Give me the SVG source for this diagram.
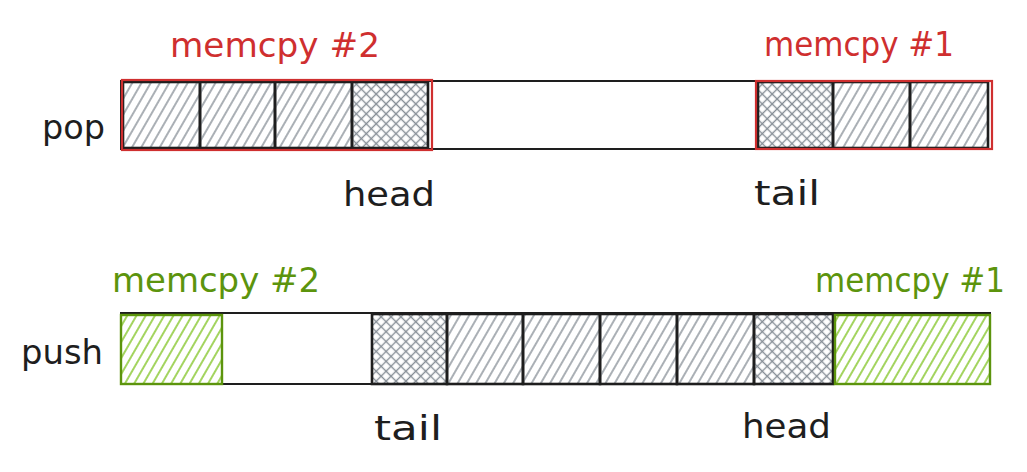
<svg xmlns="http://www.w3.org/2000/svg" width="1027" height="472" viewBox="0 0 1027 472">
<style>
.bg{fill:#fff}
.bar{fill:none;stroke:#1e1e1e;stroke-width:2}
.cell{fill:url(#hatch);stroke:#1e1e1e;stroke-width:2.6}
.xcell{fill:url(#xhatch);stroke:#1e1e1e;stroke-width:2.6}
.gcell{fill:url(#ghatch);stroke:#5c940d;stroke-width:2.4}
.rbox{fill:none;stroke:#cf2f2f;stroke-width:2.2}
.lbl{font-family:"DejaVu Sans","Liberation Sans",sans-serif;font-size:34px;fill:#1e1e1e}
.red{fill:#cf2f2f}
.grn{fill:#5c940d}
</style>
<defs>
<pattern id="hatch" patternUnits="userSpaceOnUse" width="8" height="8" patternTransform="rotate(30)">
<line x1="4" y1="0" x2="4" y2="8" stroke="#868e96" stroke-width="1.4"/>
</pattern>
<pattern id="xhatch" patternUnits="userSpaceOnUse" width="7" height="7" patternTransform="rotate(45)">
<line x1="3.5" y1="0" x2="3.5" y2="7" stroke="#868e96" stroke-width="1.4"/>
<line x1="0" y1="3.5" x2="7" y2="3.5" stroke="#868e96" stroke-width="1.4"/>
</pattern>
<pattern id="ghatch" patternUnits="userSpaceOnUse" width="8" height="8" patternTransform="rotate(30)">
<line x1="4" y1="0" x2="4" y2="8" stroke="#7cc21a" stroke-width="1.4"/>
</pattern>
</defs>
<rect class="bg" x="0" y="0" width="1027" height="472"/>

<g id="pop-row">
<text class="lbl" x="42" y="139" textLength="63" lengthAdjust="spacingAndGlyphs">pop</text>
<rect class="bar" x="121" y="81" width="871" height="68"/>
<rect class="cell" x="123" y="82" width="77" height="66"/>
<rect class="cell" x="200" y="82" width="75" height="66"/>
<rect class="cell" x="275" y="82" width="77" height="66"/>
<rect class="xcell" x="352" y="82" width="76" height="66"/>
<rect class="xcell" x="758" y="82" width="75" height="66"/>
<rect class="cell" x="833" y="82" width="77" height="66"/>
<rect class="cell" x="910" y="82" width="78" height="66"/>
</g>
<g id="pop-memcpy2">
<rect class="rbox" x="122" y="80" width="310" height="70"/>
<text class="lbl red" x="170" y="57" textLength="210" lengthAdjust="spacingAndGlyphs">memcpy #2</text>
</g>
<g id="pop-memcpy1">
<rect class="rbox" x="756" y="81" width="236" height="68"/>
<text class="lbl red" x="764" y="56" textLength="190" lengthAdjust="spacingAndGlyphs">memcpy #1</text>
</g>
<g id="pop-head"><text class="lbl" x="343" y="206" textLength="92" lengthAdjust="spacingAndGlyphs">head</text></g>
<g id="pop-tail"><text class="lbl" x="754" y="205" textLength="66" lengthAdjust="spacingAndGlyphs">tail</text></g>

<g id="push-row">
<text class="lbl" x="21" y="364" textLength="82" lengthAdjust="spacingAndGlyphs">push</text>
<rect class="bar" x="121" y="313" width="869" height="71"/>
<rect class="xcell" x="372" y="314" width="75" height="70"/>
<rect class="cell" x="447" y="314" width="76" height="70"/>
<rect class="cell" x="523" y="314" width="77" height="70"/>
<rect class="cell" x="600" y="314" width="77" height="70"/>
<rect class="cell" x="677" y="314" width="77" height="70"/>
<rect class="xcell" x="754" y="314" width="79" height="70"/>
</g>
<g id="push-memcpy2">
<rect class="gcell" x="121" y="315" width="101" height="69"/>
<text class="lbl grn" x="112" y="292" textLength="208" lengthAdjust="spacingAndGlyphs">memcpy #2</text>
</g>
<g id="push-memcpy1">
<rect class="gcell" x="835" y="315" width="155" height="69"/>
<text class="lbl grn" x="815" y="292" textLength="190" lengthAdjust="spacingAndGlyphs">memcpy #1</text>
</g>
<g id="push-tail"><text class="lbl" x="374" y="440" textLength="68" lengthAdjust="spacingAndGlyphs">tail</text></g>
<g id="push-head"><text class="lbl" x="742" y="438" textLength="89" lengthAdjust="spacingAndGlyphs">head</text></g>
<g id="connectors"/>
</svg>
